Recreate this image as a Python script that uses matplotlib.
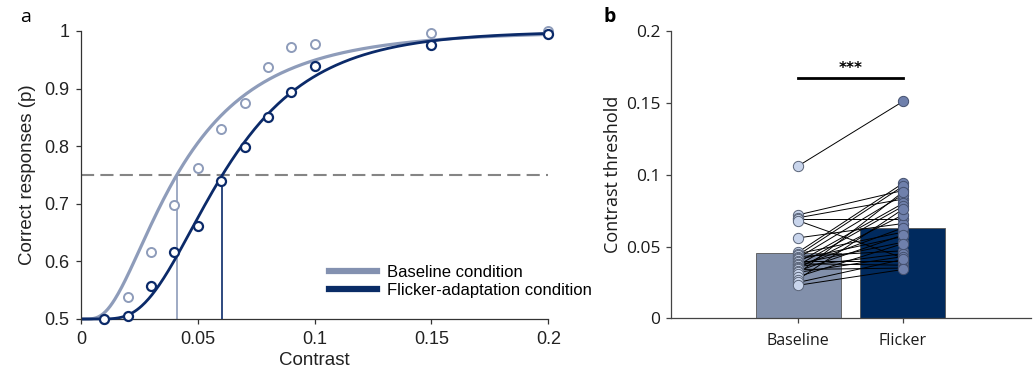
import math
import numpy as np
import matplotlib.pyplot as plt

# [DATA] ======================================================================
# Panel a: proportion correct at each contrast level
contrast = [0.01, 0.02, 0.03, 0.04, 0.05, 0.06, 0.07, 0.08, 0.09, 0.10, 0.15, 0.20]
p_baseline = [0.500, 0.539, 0.616, 0.698, 0.763, 0.830, 0.875, 0.937, 0.972, 0.977, 0.997, 1.000]
p_flicker = [0.500, 0.506, 0.558, 0.617, 0.662, 0.740, 0.799, 0.851, 0.894, 0.939, 0.976, 0.995]

# Fitted psychometric functions (cumulative gaussian on log contrast)
thresh_baseline, spread_baseline = 0.041, 0.70
thresh_flicker, spread_flicker = 0.0605, 0.50
criterion = 0.75

# Panel b: per-participant thresholds (paired) and group means
conditions = ['Baseline', 'Flicker']
mean_threshold = [0.0457, 0.0627]
thr_baseline = [0.106, 0.072, 0.070, 0.069, 0.068, 0.056, 0.046, 0.045, 0.044, 0.043,
                0.042, 0.041, 0.040, 0.039, 0.038, 0.038, 0.037, 0.036, 0.036, 0.035,
                0.034, 0.033, 0.032, 0.031, 0.029, 0.027, 0.025, 0.023]
thr_flicker = [0.151, 0.089, 0.083, 0.069, 0.042, 0.066, 0.094, 0.060, 0.092, 0.047,
               0.086, 0.057, 0.040, 0.080, 0.053, 0.037, 0.078, 0.063, 0.045, 0.072,
               0.035, 0.058, 0.043, 0.088, 0.052, 0.076, 0.041, 0.034]
sig_label = '***'
sig_height = 0.1676

# [END DATA] ==================================================================

light = '#8e9cba'
dark = '#0b2a69'
bar_light = '#8290ab'
bar_dark = '#002a5e'


def psychometric(x, t, s):
    return np.array([0.5 + 0.25 * (1 + math.erf(math.log(v / t) / (s * math.sqrt(2)))) for v in x])


fig = plt.figure(figsize=(10.36, 3.76), dpi=100)

# [PANEL A] ===================================================================
ax_a = fig.add_axes([0.0782, 0.1516, 0.451, 0.766])
xs = np.linspace(0.001, 0.2, 400)
ax_a.axhline(criterion, color='#858585', lw=1.5, dashes=(6.3, 3), zorder=1)
ax_a.plot(xs, psychometric(xs, thresh_baseline, spread_baseline), color=light, lw=2.3,
          label='Baseline condition', zorder=2, clip_on=False)
ax_a.plot(xs, psychometric(xs, thresh_flicker, spread_flicker), color=dark, lw=2.0,
          label='Flicker-adaptation condition', zorder=3, clip_on=False)
ax_a.plot([thresh_baseline, thresh_baseline], [0.5, criterion], color=light, lw=1.2, zorder=2)
ax_a.plot([thresh_flicker, thresh_flicker], [0.5, criterion], color=dark, lw=1.2, zorder=3)
ax_a.plot(contrast, p_baseline, 'o', ms=6.5, mfc='white', mec=light, mew=1.4,
          zorder=4, clip_on=False)
ax_a.plot(contrast, p_flicker, 'o', ms=6.5, mfc='white', mec=dark, mew=1.6,
          zorder=5, clip_on=False)

ax_a.set_xlim(0, 0.2)
ax_a.set_ylim(0.5, 1)
ax_a.set_xticks([0, 0.05, 0.1, 0.15, 0.2])
ax_a.set_xticklabels(['0', '0.05', '0.1', '0.15', '0.2'])
ax_a.set_yticks([0.5, 0.6, 0.7, 0.8, 0.9, 1])
ax_a.set_yticklabels(['0.5', '0.6', '0.7', '0.8', '0.9', '1'])
for sp in ['top', 'right']:
    ax_a.spines[sp].set_visible(False)
for sp in ['left', 'bottom']:
    ax_a.spines[sp].set_color('#333333')
    ax_a.spines[sp].set_linewidth(0.9)
ax_a.tick_params(direction='out', length=3.5, width=0.9, color='#333333',
                 labelsize=13, labelcolor='#222222', pad=5)
for lab in ax_a.get_xticklabels() + ax_a.get_yticklabels():
    lab.set_family('Liberation Sans')
ax_a.set_xlabel('Contrast', family='Liberation Sans', fontsize=13.5, color='#222222', labelpad=3)
ax_a.set_ylabel('Correct responses (p)', family='Liberation Sans', fontsize=13.5,
                color='#222222', labelpad=6)
leg = ax_a.legend(loc='lower right', bbox_to_anchor=(1.094, 0.072), frameon=False,
                  borderaxespad=0, borderpad=0,
                  prop={'family': 'Liberation Sans', 'size': 12}, handlelength=2.9,
                  handletextpad=0.6, labelspacing=0.2)
for h in leg.get_lines():
    h.set_linewidth(4.5)
leg.get_lines()[0].set_color('#8391b0')
leg.get_lines()[1].set_color('#0a2c66')
fig.text(0.019, 0.955, 'a', family='Open Sans', fontsize=14, va='center')

# [PANEL B] ===================================================================
ax_b = fig.add_axes([0.6477, 0.1534, 0.3475, 0.764])
xpos = np.arange(len(conditions))
ax_b.bar(xpos, mean_threshold, width=0.81, color=[bar_light, bar_dark],
         edgecolor='#555555', linewidth=0.6, zorder=1)
for b, f in zip(thr_baseline, thr_flicker):
    ax_b.plot(xpos, [b, f], color='black', lw=0.7, zorder=2)
ax_b.scatter(np.zeros(len(thr_baseline)), thr_baseline, s=55, color='#c9d5ec',
             edgecolor='#5a6478', linewidth=0.7, zorder=3)
ax_b.scatter(np.ones(len(thr_flicker)), thr_flicker, s=55, color='#6f80ac',
             edgecolor='#44506e', linewidth=0.7, zorder=3)
ax_b.plot(xpos, [sig_height, sig_height], color='black', lw=2.0)
ax_b.text(0.5, sig_height + 0.0008, sig_label, ha='center', va='bottom',
          fontsize=11, fontweight='bold', family='DejaVu Sans')

ax_b.set_xlim(-1.21, 2.22)
ax_b.set_ylim(0, 0.2)
ax_b.set_xticks(xpos)
ax_b.set_xticklabels(conditions)
ax_b.set_yticks([0, 0.05, 0.1, 0.15, 0.2])
ax_b.set_yticklabels(['0', '0.05', '0.1', '0.15', '0.2'])
for sp in ['top', 'right']:
    ax_b.spines[sp].set_visible(False)
for sp in ['left', 'bottom']:
    ax_b.spines[sp].set_color('#444444')
    ax_b.spines[sp].set_linewidth(0.9)
ax_b.tick_params(direction='out', length=3.5, width=0.9, color='#444444',
                 labelsize=12.5, labelcolor='#1a1a1a', pad=4)
for lab in ax_b.get_yticklabels() + ax_b.get_xticklabels():
    lab.set_family('Open Sans')
for lab in ax_b.get_xticklabels():
    lab.set_fontsize(11.5)
    lab.set_fontweight('medium')
ax_b.tick_params(axis='x', pad=7)
ax_b.set_ylabel('Contrast threshold', family='Open Sans', fontsize=13, color='#1a1a1a',
                labelpad=3)
fig.text(0.583, 0.955, 'b', family='Open Sans', fontsize=14, fontweight='bold', va='center')

fig.savefig('out.png', dpi=100)
